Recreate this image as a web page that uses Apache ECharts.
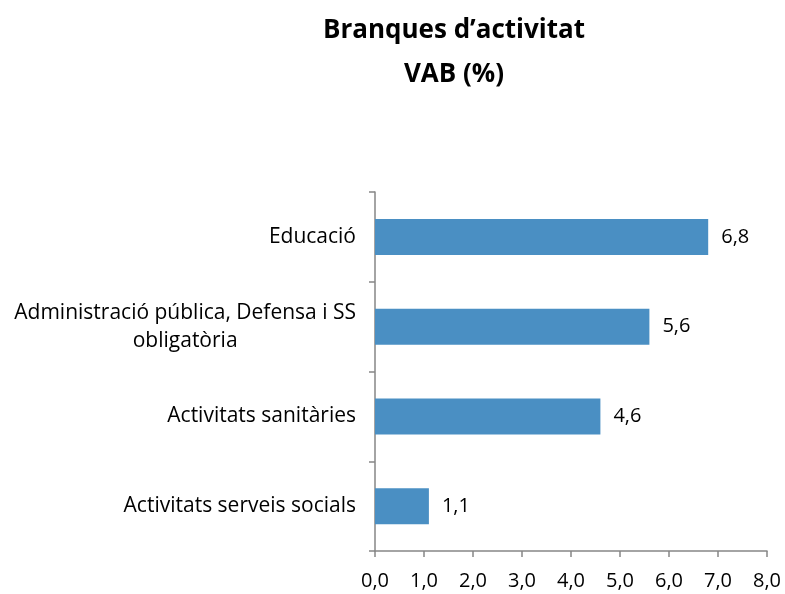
<!DOCTYPE html>
<html lang="ca">
<head>
    <meta charset="UTF-8">
    <title>Branques d'activitat</title>
    <script src="https://cdn.jsdelivr.net/npm/echarts@6/dist/echarts.min.js"></script>
    <style>
        html, body { margin: 0; padding: 0; background: #fff; }
        #chart { width: 785px; height: 594px; }
    </style>
</head>
<body>
<div id="chart"></div>
<script>
    // dades llegides del gràfic (de dalt a baix)
    const categories = [
        'Educació',
        'Administració pública, Defensa i SS\nobligatòria',
        'Activitats sanitàries',
        'Activitats serveis socials'
    ];
    const values = [6.8, 5.6, 4.6, 1.1];

    const fontFam = '"Open Sans", "Liberation Sans", sans-serif';
    const fmt = v => v.toFixed(1).replace('.', ',');

    const myChart = echarts.init(document.getElementById('chart'));

    const option = {
        animation: false,
        title: {
            text: 'Branques d’activitat\nVAB (%)',
            left: 449,
            top: 4,
            textAlign: 'center',
            textStyle: {
                fontFamily: fontFam,
                fontSize: 26,
                fontWeight: 'bold',
                color: '#000',
                lineHeight: 44
            }
        },
        grid: {
            left: 375,
            right: 18,
            top: 192,
            bottom: 43,
            containLabel: false
        },
        xAxis: {
            type: 'value',
            min: 0,
            max: 8,
            interval: 1,
            splitLine: { show: false },
            axisLine: { show: true, lineStyle: { color: '#868686', width: 1.5 } },
            axisTick: { show: true, length: 6, lineStyle: { color: '#868686', width: 1.5 } },
            axisLabel: {
                formatter: v => fmt(v),
                margin: 20,
                fontFamily: fontFam,
                fontSize: 20,
                color: '#000'
            }
        },
        yAxis: {
            type: 'category',
            inverse: true,
            data: categories,
            axisLine: { show: true, lineStyle: { color: '#868686', width: 1.5 } },
            axisTick: { show: true, length: 6, lineStyle: { color: '#868686', width: 1.5 } },
            axisLabel: {
                margin: 19,
                formatter: v => v.split('\n').map(s => '{a|' + s + '}').join('\n'),
                rich: {
                    a: {
                        fontFamily: fontFam,
                        fontSize: 21,
                        color: '#000',
                        lineHeight: 28,
                        align: 'center'
                    }
                }
            }
        },
        series: [
            {
                type: 'bar',
                data: values,
                barWidth: 36,
                itemStyle: { color: '#4a8fc3' },
                label: {
                    show: true,
                    position: 'right',
                    distance: 13,
                    formatter: p => fmt(p.value),
                    fontFamily: fontFam,
                    fontSize: 20,
                    color: '#000'
                }
            }
        ]
    };

    myChart.setOption(option);
</script>
</body>
</html>
